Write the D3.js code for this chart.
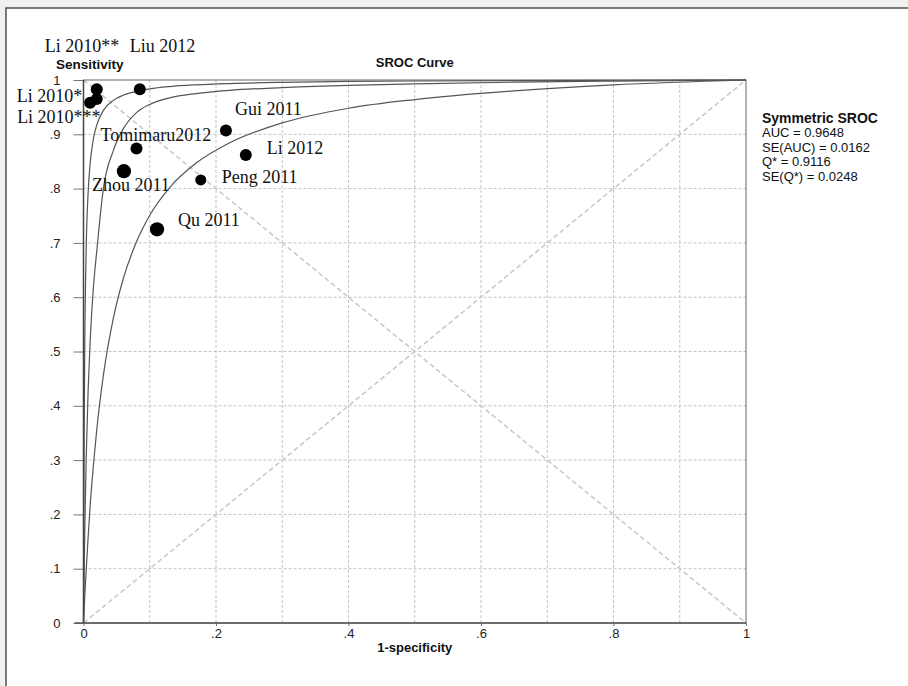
<!DOCTYPE html>
<html><head><meta charset="utf-8">
<script src="https://cdn.jsdelivr.net/npm/d3@7"></script>
<style>
html,body{margin:0;padding:0;background:#f0f0f0;}
svg{display:block;}
</style></head>
<body>
<svg id="chart" width="908" height="686"></svg>
<script>
// ---- data ----
const studies = ["Li 2010**","Li 2010*","Li 2010***","Liu 2012","Gui 2011","Tomimaru2012","Li 2012","Zhou 2011","Peng 2011","Qu 2011"];
const fpr  = [0.020,0.020,0.010,0.085,0.215,0.080,0.245,0.061,0.177,0.111];
const sens = [0.983,0.965,0.958,0.983,0.907,0.874,0.862,0.832,0.816,0.725];
const weight = [1,1,1,1,1,1,1,1.4,0.85,1.4];
// curves: [1-specificity, sensitivity]
const curveFpr   = [0,0.001,0.002,0.004,0.007,0.01,0.015,0.02,0.03,0.045,0.06,0.08,0.1,0.13,0.17,0.22,0.3,0.4,0.5,0.65,0.8,1];
const innerSens  = [0,0.353,0.522,0.686,0.793,0.846,0.892,0.917,0.944,0.9625,0.972,0.979,0.9837,0.9879,0.9911,0.9935,0.9957,0.9973,0.9982,0.9990,0.9995,1];
const middleSens = [0,0.0963,0.1757,0.2994,0.4286,0.518,0.6184,0.6847,0.80,0.87,0.91,0.94,0.955,0.967,0.975,0.981,0.986,0.99,0.993,0.996,0.998,1];
const outerSens  = [0,0.026,0.0515,0.095,0.158,0.215,0.291,0.356,0.456,0.561,0.634,0.702,0.751,0.802,0.847,0.884,0.921,0.948,0.964,0.980,0.991,1];
const xTicks = [0,0.2,0.4,0.6,0.8,1];
const yTicks = [0,0.1,0.2,0.3,0.4,0.5,0.6,0.7,0.8,0.9,1];
const gridVals = [0.1,0.2,0.3,0.4,0.5,0.6,0.7,0.8,0.9];
const legendTitle = "Symmetric SROC";
const legendLines = ["AUC = 0.9648","SE(AUC) = 0.0162","Q* = 0.9116","SE(Q*) = 0.0248"];
// label placement (pixel offsets from each dot)
const labelDx = [-52,-80,-73,-10,9,-36,21,-32,21,21];
const labelDy = [-37,3,20,-37,-15,-7,-1,20,3,-3];

const svg = d3.select("#chart");
const x = d3.scaleLinear().domain([0,1]).range([83.5,746]);
const y = d3.scaleLinear().domain([0,1]).range([623,80]);
const r = d3.scaleSqrt().domain([0,1]).range([0,6]);
const sans = "Liberation Sans, Arial, sans-serif";

// panel
svg.append("rect").attr("x",6).attr("y",8).attr("width",1000).attr("height",1000)
  .attr("fill","#fff").attr("stroke","#5a5a5a").attr("stroke-width",1.6);

// grid
const g = svg.append("g");
g.selectAll(".vg").data(gridVals).join("line")
  .attr("x1",d=>x(d)).attr("x2",d=>x(d)).attr("y1",y(0)).attr("y2",y(1))
  .attr("stroke","#c4c4c4").attr("stroke-dasharray","3,2").attr("stroke-width",1);
g.selectAll(".hg").data(gridVals).join("line")
  .attr("y1",d=>y(d)).attr("y2",d=>y(d)).attr("x1",x(0)).attr("x2",x(1))
  .attr("stroke","#c4c4c4").attr("stroke-dasharray","3,2").attr("stroke-width",1);
// diagonals
g.append("line").attr("x1",x(0)).attr("y1",y(0)).attr("x2",x(1)).attr("y2",y(1))
  .attr("stroke","#c8c8c8").attr("stroke-width",1.5).attr("stroke-dasharray","5,3");
g.append("line").attr("x1",x(0)).attr("y1",y(1)).attr("x2",x(1)).attr("y2",y(0))
  .attr("stroke","#c8c8c8").attr("stroke-width",1.5).attr("stroke-dasharray","5,3");

// frame
svg.append("rect").attr("x",x(0)).attr("y",y(1)).attr("width",x(1)-x(0)).attr("height",y(0)-y(1))
  .attr("fill","none").attr("stroke","#666").attr("stroke-width",1);

// curves
const line = d3.line().x(d=>x(d[0])).y(d=>y(d[1])).curve(d3.curveMonotoneX);
[innerSens,middleSens,outerSens].forEach(s=>{
  svg.append("path").datum(curveFpr.map((f,i)=>[f,s[i]]))
    .attr("d",line).attr("fill","none").attr("stroke","#555").attr("stroke-width",1.2);
});

// axes
const fmt = d=> d===0?"0": d===1?"1": "."+Math.round(d*10);
const yAxis = d3.axisLeft(y).tickValues(yTicks).tickSize(10).tickPadding(13).tickFormat(fmt);
const ya = svg.append("g").attr("transform",`translate(${x(0)},0)`).call(yAxis);
ya.select(".domain").remove();
ya.selectAll("line").attr("stroke","#777");
ya.selectAll("text").attr("font-family",sans).attr("font-size",13).attr("fill","#222");

const xAxis = d3.axisBottom(x).tickValues(xTicks).tickSize(3).tickPadding(3).tickFormat(fmt);
const xa = svg.append("g").attr("transform",`translate(0,${y(0)})`).call(xAxis);
xa.select(".domain").remove();
xa.selectAll("line").attr("stroke","#777");
xa.selectAll("text").attr("font-family",sans).attr("font-size",13).attr("fill","#222");

// axis lines (darker left & bottom)
svg.append("line").attr("x1",x(0)).attr("x2",x(0)).attr("y1",y(1)).attr("y2",y(0)).attr("stroke","#444").attr("stroke-width",1.5);
svg.append("line").attr("x1",x(0)-9).attr("x2",x(1)).attr("y1",y(0)).attr("y2",y(0)).attr("stroke","#555").attr("stroke-width",1.5);

// titles
svg.append("text").attr("x",(x(0)+x(1))/2).attr("y",67).attr("text-anchor","middle")
  .attr("font-family",sans).attr("font-weight","bold").attr("font-size",13).attr("fill","#111").text("SROC Curve");
svg.append("text").attr("x",56).attr("y",69)
  .attr("font-family",sans).attr("font-weight","bold").attr("font-size",13.5).attr("fill","#111").text("Sensitivity");
svg.append("text").attr("x",(x(0)+x(1))/2).attr("y",652).attr("text-anchor","middle")
  .attr("font-family",sans).attr("font-weight","bold").attr("font-size",13).attr("fill","#111").text("1-specificity");

// legend
svg.append("text").attr("x",762).attr("y",123).attr("font-family",sans).attr("font-weight","bold")
  .attr("font-size",14).attr("fill","#111").text(legendTitle);
svg.selectAll(".leg").data(legendLines).join("text")
  .attr("x",762).attr("y",(d,i)=>137+i*14.5).attr("font-family",sans).attr("font-size",13).attr("fill","#111").text(d=>d);

// points
svg.selectAll(".pt").data(studies).join("circle")
  .attr("cx",(d,i)=>x(fpr[i])).attr("cy",(d,i)=>y(sens[i])).attr("r",(d,i)=>r(weight[i]))
  .attr("fill","#000");
svg.selectAll(".lbl").data(studies).join("text")
  .attr("x",(d,i)=>x(fpr[i])+labelDx[i]).attr("y",(d,i)=>y(sens[i])+labelDy[i])
  .attr("font-family","Liberation Serif, Times New Roman, serif").attr("font-size",18).attr("fill","#111")
  .text(d=>d);
</script>
</body></html>
